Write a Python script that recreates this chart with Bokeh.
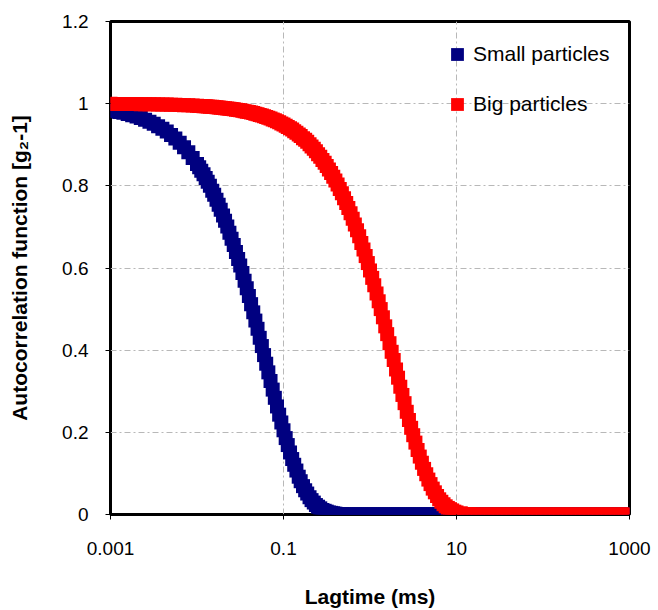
from bokeh.plotting import figure
from bokeh.models import (Range1d, FixedTicker, CustomJSTickFormatter, Legend,
                          LegendItem)
from bokeh.embed import file_html
from bokeh.resources import INLINE

# Lag times (ms)
lagtime = [
    0.00100, 0.00112, 0.00126, 0.00141, 0.00158, 0.00178, 0.00200, 0.00224, 0.00251, 0.00282,
    0.00316, 0.00355, 0.00398, 0.00447, 0.00501, 0.00562, 0.00631, 0.00708, 0.00794, 0.00891,
    0.0100, 0.0106, 0.0112, 0.0119, 0.0126, 0.0133, 0.0141, 0.0150, 0.0158, 0.0168,
    0.0178, 0.0188, 0.0200, 0.0211, 0.0224, 0.0237, 0.0251, 0.0266, 0.0282, 0.0299,
    0.0316, 0.0335, 0.0355, 0.0376, 0.0398, 0.0422, 0.0447, 0.0473, 0.0501, 0.0531,
    0.0562, 0.0596, 0.0631, 0.0668, 0.0708, 0.0750, 0.0794, 0.0841, 0.0891, 0.0944,
    0.100, 0.106, 0.112, 0.119, 0.126, 0.133, 0.141, 0.150, 0.158, 0.168,
    0.178, 0.188, 0.200, 0.211, 0.224, 0.237, 0.251, 0.266, 0.282, 0.299,
    0.316, 0.335, 0.355, 0.376, 0.398, 0.422, 0.447, 0.473, 0.501, 0.531,
    0.562, 0.596, 0.631, 0.668, 0.708, 0.750, 0.794, 0.841, 0.891, 0.944,
    1.00, 1.06, 1.12, 1.19, 1.26, 1.33, 1.41, 1.50, 1.58, 1.68,
    1.78, 1.88, 2.00, 2.11, 2.24, 2.37, 2.51, 2.66, 2.82, 2.99,
    3.16, 3.35, 3.55, 3.76, 3.98, 4.22, 4.47, 4.73, 5.01, 5.31,
    5.62, 5.96, 6.31, 6.68, 7.08, 7.50, 7.94, 8.41, 8.91, 9.44,
    10.0, 11.2, 12.6, 14.1, 15.8, 17.8, 20.0, 22.4, 25.1, 28.2,
    31.6, 35.5, 39.8, 44.7, 50.1, 56.2, 63.1, 70.8, 79.4, 89.1,
    100, 112, 126, 141, 158, 178, 200, 224, 251, 282,
    316, 355, 398, 447, 501, 562, 631, 708, 794, 891,
    1000,
]

small_particles = [
    0.984, 0.982, 0.980, 0.978, 0.975, 0.972, 0.969, 0.965, 0.961, 0.956,
    0.951, 0.945, 0.939, 0.932, 0.924, 0.915, 0.905, 0.894, 0.882, 0.868,
    0.853, 0.845, 0.837, 0.828, 0.819, 0.810, 0.800, 0.788, 0.778, 0.766,
    0.754, 0.742, 0.728, 0.715, 0.701, 0.686, 0.671, 0.656, 0.639, 0.622,
    0.606, 0.588, 0.569, 0.551, 0.532, 0.512, 0.492, 0.472, 0.452, 0.430,
    0.410, 0.388, 0.367, 0.346, 0.325, 0.304, 0.284, 0.263, 0.243, 0.224,
    0.205, 0.186, 0.169, 0.151, 0.135, 0.121, 0.107, 0.092, 0.081, 0.069,
    0.059, 0.051, 0.042, 0.035, 0.029, 0.023, 0.019, 0.015, 0.011, 0.009,
    0.007, 0.005, 0.004, 0.003, 0.002, 0.001, 0.001, 0.001, 0.000, 0.000,
    0.000, 0.000, 0.000, 0.000, 0.000, 0.000, 0.000, 0.000, 0.000, 0.000,
    0.000, 0.000, 0.000, 0.000, 0.000, 0.000, 0.000, 0.000, 0.000, 0.000,
    0.000, 0.000, 0.000, 0.000, 0.000, 0.000, 0.000, 0.000, 0.000, 0.000,
    0.000, 0.000, 0.000, 0.000, 0.000, 0.000, 0.000, 0.000, 0.000, 0.000,
    0.000, 0.000, 0.000, 0.000, 0.000, 0.000, 0.000, 0.000, 0.000, 0.000,
    0.000, 0.000, 0.000, 0.000, 0.000, 0.000, 0.000, 0.000, 0.000, 0.000,
    0.000, 0.000, 0.000, 0.000, 0.000, 0.000, 0.000, 0.000, 0.000, 0.000,
    0.000, 0.000, 0.000, 0.000, 0.000, 0.000, 0.000, 0.000, 0.000, 0.000,
    0.000, 0.000, 0.000, 0.000, 0.000, 0.000, 0.000, 0.000, 0.000, 0.000,
    0.000,
]

big_particles = [
    0.9995, 0.9994, 0.9993, 0.9993, 0.9992, 0.9991, 0.9990, 0.9988, 0.9987, 0.9985,
    0.9984, 0.9982, 0.9979, 0.9977, 0.9974, 0.9971, 0.9967, 0.9963, 0.9959, 0.9954,
    0.9948, 0.9945, 0.9942, 0.9938, 0.9935, 0.9931, 0.9927, 0.9922, 0.9918, 0.9913,
    0.9908, 0.9903, 0.9896, 0.9891, 0.9884, 0.9877, 0.9870, 0.9862, 0.9854, 0.9846,
    0.9837, 0.9827, 0.9817, 0.9806, 0.9795, 0.9783, 0.9770, 0.9757, 0.9742, 0.9727,
    0.9712, 0.9694, 0.9677, 0.9658, 0.9638, 0.9617, 0.9595, 0.9571, 0.9547, 0.9520,
    0.949, 0.946, 0.943, 0.940, 0.937, 0.933, 0.929, 0.925, 0.921, 0.916,
    0.912, 0.907, 0.901, 0.896, 0.890, 0.884, 0.877, 0.871, 0.863, 0.856,
    0.848, 0.840, 0.831, 0.822, 0.813, 0.803, 0.792, 0.782, 0.770, 0.758,
    0.746, 0.733, 0.720, 0.706, 0.692, 0.677, 0.661, 0.645, 0.629, 0.612,
    0.594, 0.576, 0.558, 0.538, 0.519, 0.500, 0.480, 0.458, 0.439, 0.417,
    0.396, 0.376, 0.353, 0.333, 0.311, 0.291, 0.271, 0.250, 0.230, 0.211,
    0.193, 0.175, 0.157, 0.141, 0.126, 0.111, 0.098, 0.085, 0.074, 0.063,
    0.054, 0.045, 0.037, 0.031, 0.025, 0.020, 0.016, 0.013, 0.010, 0.007,
    0.005, 0.003, 0.001, 0.001, 0.000, 0.000, 0.000, 0.000, 0.000, 0.000,
    0.000, 0.000, 0.000, 0.000, 0.000, 0.000, 0.000, 0.000, 0.000, 0.000,
    0.000, 0.000, 0.000, 0.000, 0.000, 0.000, 0.000, 0.000, 0.000, 0.000,
    0.000, 0.000, 0.000, 0.000, 0.000, 0.000, 0.000, 0.000, 0.000, 0.000,
    0.000,
]

assert len(lagtime) == len(small_particles) == len(big_particles)

x_ticks = [0.001, 0.1, 10, 1000]
y_ticks = [0, 0.2, 0.4, 0.6, 0.8, 1.0, 1.2]
series_names = ["Small particles", "Big particles"]
x_title = "Lagtime (ms)"
y_title = "Autocorrelation function [g\u2082-1]"

FONT = "Liberation Sans"
NAVY = "#000080"
RED = "#FF0000"

p = figure(width=658, height=610, x_axis_type="log",
           x_range=Range1d(0.001, 1000), y_range=Range1d(0, 1.2),
           output_backend="svg", toolbar_location=None, title=None,
           min_border_left=110, min_border_right=29,
           min_border_top=21, min_border_bottom=95,
           x_axis_label=x_title, y_axis_label=y_title)
p.background_fill_color = "white"
p.border_fill_color = "white"
p.outline_line_color = "black"
p.outline_line_width = 3
p.outline_line_alpha = 1.0

xt = FixedTicker(ticks=x_ticks, minor_ticks=[])
yt = FixedTicker(ticks=y_ticks, minor_ticks=[])
p.xaxis.ticker = xt
p.yaxis.ticker = yt
p.xgrid.ticker = xt
p.ygrid.ticker = yt
p.xaxis.formatter = CustomJSTickFormatter(code="return String(tick);")
p.yaxis.formatter = CustomJSTickFormatter(code="return String(parseFloat(tick.toFixed(1)));")

for ax in (p.xaxis, p.yaxis):
    ax.axis_line_color = None
    ax.major_tick_line_color = "black"
    ax.major_tick_line_width = 1
    ax.major_tick_out = 5
    ax.major_tick_in = 0
    ax.minor_tick_line_color = None
    ax.major_label_text_font = FONT
    ax.major_label_text_font_size = "19px"
    ax.major_label_text_color = "black"
    ax.axis_label_text_font = FONT
    ax.axis_label_text_font_size = "21px"
    ax.axis_label_text_font_style = "bold"
    ax.axis_label_text_color = "black"
p.yaxis.major_label_standoff = 17
p.xaxis.major_label_standoff = 22
p.yaxis.axis_label_standoff = 28
p.xaxis.axis_label_standoff = 27

for g in (p.xgrid, p.ygrid):
    g.grid_line_color = "#b8b8b8"
    g.grid_line_width = 1
    g.grid_line_dash = "6 3 2 3"

r1 = p.scatter(lagtime, small_particles, marker="square", size=14,
               fill_color=NAVY, line_color=NAVY, line_width=0)
r2 = p.scatter(lagtime, big_particles, marker="square", size=14,
               fill_color=RED, line_color=RED, line_width=0)

legend = Legend(items=[LegendItem(label=series_names[0], renderers=[r1]),
                       LegendItem(label=series_names[1], renderers=[r2])],
                location=(331, 394), orientation="vertical",
                glyph_width=32, glyph_height=32, label_standoff=0,
                spacing=18, padding=0, margin=0,
                border_line_color=None, background_fill_alpha=0,
                label_text_font=FONT, label_text_font_size="21px",
                label_text_color="black")
p.add_layout(legend)

open("out.html", "w").write(file_html(p, INLINE))
